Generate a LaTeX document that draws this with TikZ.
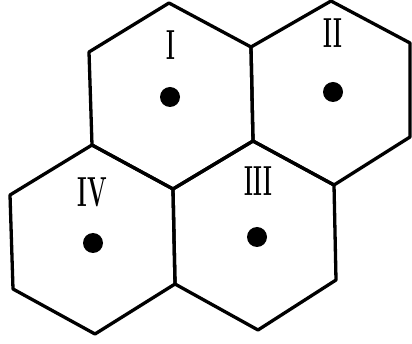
\documentclass[tikz,border=0pt]{standalone}
\begin{document}
\begin{tikzpicture}[x=1pt,y=-1pt,
  edge/.style={line width=3.3pt,line join=round,line cap=round},
  dotmark/.style={circle,fill=black,inner sep=0pt,minimum size=20pt},
  numeral/.style={inner sep=0pt,font=\fontsize{42}{42}\selectfont\bfseries}]
\useasboundingbox (0,0) rectangle (412,344);
% shared vertices
\coordinate (T1) at (169,3);
\coordinate (UL1) at (89,52);
\coordinate (LL1) at (92,145);
\coordinate (B1) at (173,189);
\coordinate (LR1) at (253,141);
\coordinate (UR1) at (251,47);
\coordinate (T2) at (331,1);
\coordinate (UR2) at (410,43);
\coordinate (LR2) at (410,137);
\coordinate (B2) at (334,185);
\coordinate (UL4) at (10,195);
\coordinate (LL4) at (13,289);
\coordinate (B4) at (95,334);
\coordinate (LR4) at (175,284);
\coordinate (B3) at (258,330);
\coordinate (LR3) at (336,280);
% hexagons
\draw[edge] (T1) -- (UL1) -- (LL1) -- (B1) -- (LR1) -- (UR1) -- cycle;
\draw[edge] (T2) -- (UR1) -- (LR1) -- (B2) -- (LR2) -- (UR2) -- cycle;
\draw[edge] (LL1) -- (UL4) -- (LL4) -- (B4) -- (LR4) -- (B1) -- cycle;
\draw[edge] (LR1) -- (B1) -- (LR4) -- (B3) -- (LR3) -- (B2) -- cycle;
% labels
\node[numeral] (lI) at (171,45) {\scalebox{0.5}[1]{I}};
\node[numeral] (lII) at (333,33) {\scalebox{0.5}[1]{II}};
\node[numeral] (lIII) at (258,181) {\scalebox{0.5}[1]{III}};
\node[numeral] (lIV) at (92,192) {\scalebox{0.55}[1]{IV}};
% dots
\node[dotmark] (dI) at (170,97) {};
\node[dotmark] (dII) at (333,92) {};
\node[dotmark] (dIII) at (257,237) {};
\node[dotmark] (dIV) at (93,243) {};
\end{tikzpicture}
\end{document}
